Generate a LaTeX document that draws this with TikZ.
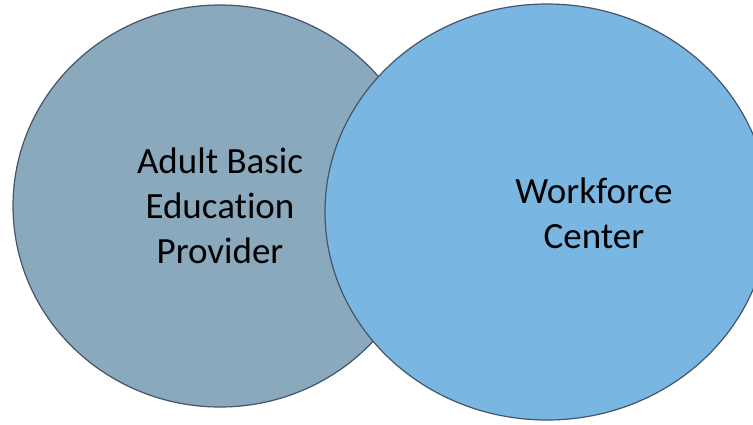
\documentclass[tikz,border=0pt]{standalone}
\usepackage{fontspec}
\setmainfont[Ligatures=NoCommon]{Carlito}
\usetikzlibrary{shapes.geometric}
\definecolor{abefill}{HTML}{8BA9BC}
\definecolor{wcfill}{HTML}{7AB6E2}
\definecolor{rimline}{HTML}{44546A}

\begin{document}
\begin{tikzpicture}[x=1pt, y=-1pt,
  blob/.style = {draw=rimline, line width=1.2pt, ellipse, inner sep=0pt},
  label/.style = {align=center, font=\fontsize{37}{45}\selectfont}]
\useasboundingbox (0,0) rectangle (753,424);
\node[blob, fill=abefill, minimum width=414pt, minimum height=402pt] (abe) at (220,206) {};
\node[blob, fill=wcfill, minimum width=444pt, minimum height=416pt] (wc) at (547,212) {};
\node[label] (abetext) at (220,206) {Adult Basic\\Education\\Provider};
\node[label] (wctext) at (594,213) {Workforce\\Center};
\end{tikzpicture}
\end{document}
